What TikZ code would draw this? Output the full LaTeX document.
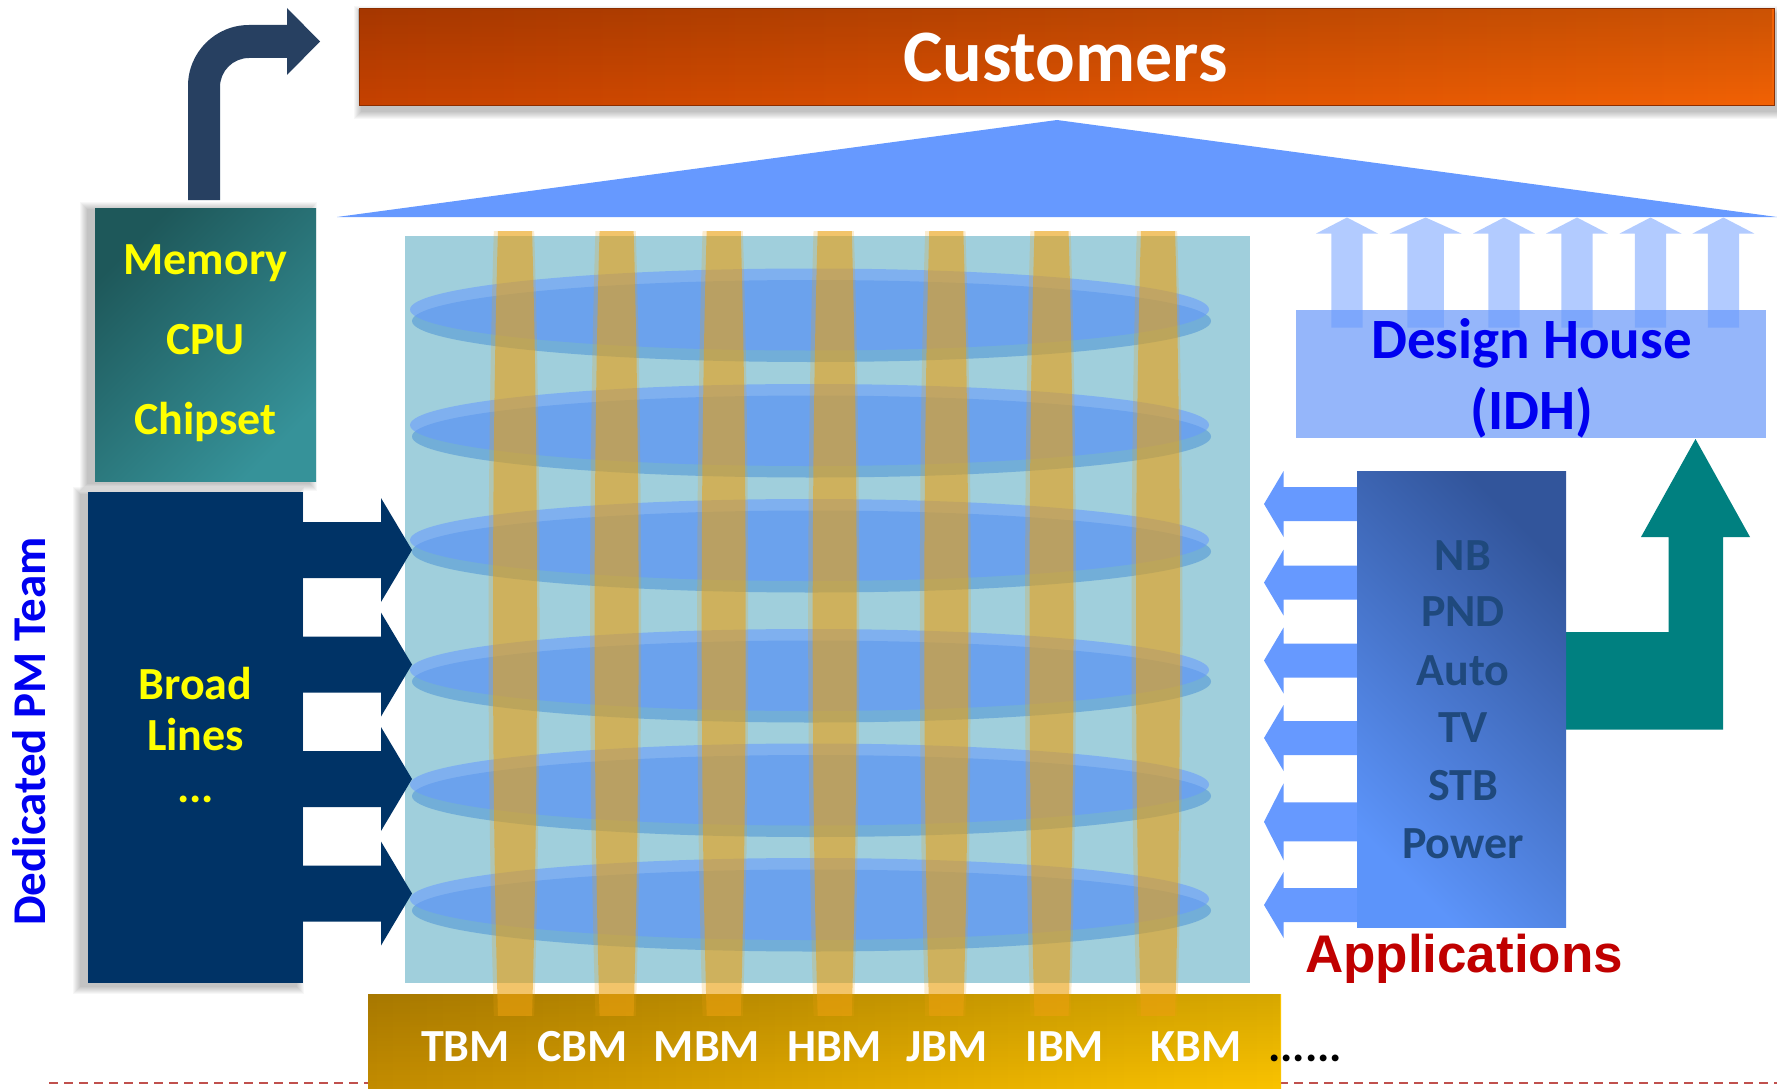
\documentclass[tikz,border=0pt]{standalone}
\usepackage{fontspec}
\setmainfont{Carlito}
\newfontfamily\arialfont{Liberation Sans}
\usetikzlibrary{fadings}

\definecolor{navyA}{RGB}{0,51,102}
\definecolor{navyB}{RGB}{39,64,97}
\definecolor{tealA}{RGB}{0,128,128}
\definecolor{sqblue}{RGB}{160,207,220}
\definecolor{pblue}{RGB}{102,153,255}
\definecolor{elB}{RGB}{95,160,215}
\definecolor{barO}{RGB}{235,160,15}
\definecolor{dhblue}{RGB}{149,182,250}
\definecolor{appsL}{RGB}{92,148,250}
\definecolor{appsD}{RGB}{50,85,155}
\definecolor{apptext}{RGB}{31,73,125}
\definecolor{memD}{RGB}{30,88,90}
\definecolor{memL}{RGB}{54,146,153}
\definecolor{goldD}{RGB}{195,140,0}
\definecolor{goldL}{RGB}{250,195,0}
\definecolor{custL}{RGB}{198,66,0}
\definecolor{custR}{RGB}{242,98,5}
\definecolor{dashred}{RGB}{192,80,77}
\definecolor{appred}{RGB}{192,0,0}
\definecolor{dblue}{RGB}{0,0,240}
\definecolor{yel}{RGB}{255,255,0}

\newcommand{\softshadow}[6]{%
  \foreach \k in {1,...,8}{%
    \fill[black, opacity=0.03] ({#1+#5-\k},{#2+#6-\k}) rectangle ({#3+#5+\k},{#4+#6+\k});
  }}

\begin{document}
\begin{tikzpicture}[x=1pt,y=-1pt,
  boxnode/.style={inner sep=0pt, outer sep=0pt, draw=none, anchor=north west},
  txt/.style={inner sep=0pt, anchor=base, font=\bfseries\fontsize{46}{50}\selectfont},
]
\useasboundingbox (0,0) rectangle (1777,1089);
\fill[white] (0,0) rectangle (1777,1089);

% dashed base line
\coordinate (dl) at (49,1082.5);
\coordinate (dr) at (1777,1082.5);
\draw[dashred, line width=2, dash pattern=on 9 off 6] (dl) -- (dr);

% Customers bar
\softshadow{359}{9}{1774}{106}{3}{5}
\node[boxnode, minimum width=1415, minimum height=97, left color=custL, right color=custR] (cust) at (359,9) {};
\fill[black, opacity=0.16, path fading=south] (cust.north west) rectangle (cust.south east);
\draw[custL!70!black, line width=1] (cust.north west) rectangle (cust.south east);
\node[txt, text=white, font=\bfseries\fontsize{74}{80}\selectfont] (custt) at (1065.5,81.6) {Customers};

% roof
\coordinate (rl) at (337,217);
\coordinate (ra) at (1057,120);
\coordinate (rr) at (1777,217);
\fill[pblue] (rl) -- (ra) -- (rr) -- cycle;

% curved navy arrow
\fill[navyB] (188,200) -- (188,86) .. controls (188,52.3) and (215.3,25) .. (249,25)
  -- (287,25) -- (287,8) -- (320,41.5) -- (287,75) -- (287,58) -- (249,58)
  .. controls (233,58) and (220,71) .. (220,87) -- (220,200) -- cycle;

% Memory box
\softshadow{95}{208}{316}{481}{-7}{2}
\node[boxnode, minimum width=221, minimum height=273, top color=memD, bottom color=memL, shading angle=45] (mem) at (95,208) {};
\node[txt, text=yel] (m1) at (205.5,274) {Memory};
\node[txt, text=yel] (m2) at (205.5,354) {CPU};
\node[txt, text=yel] (m3) at (205.5,434) {Chipset};

% Broad lines box
\softshadow{88}{492}{303}{983}{-7}{3}
\node[boxnode, minimum width=215, minimum height=491, fill=navyA] (bl) at (88,492) {};
\node[txt, text=yel] (b1) at (195.5,699.4) {Broad};
\node[txt, text=yel] (b2) at (195.5,750.7) {Lines};
\node[txt, text=yel] (b3) at (195.5,802) {...};

% Dedicated PM Team
\node[inner sep=0pt, anchor=base, rotate=90, text=dblue, font=\bfseries\fontsize{47}{50}\selectfont] (pm) at (45.7,731.5) {Dedicated PM Team};

% central square
\node[boxnode, minimum width=845, minimum height=747, fill=sqblue] (sq) at (405,236) {};

% navy arrows into square
\foreach \c in {550,664.5,779,893.5}{
  \fill[navyA] (300,\c-28) -- (381,\c-28) -- (381,\c-52) -- (412,\c) -- (381,\c+52) -- (381,\c+28) -- (300,\c+28) -- cycle;
}

% ellipse rows
\foreach \cy in {309.5,425,540,670,784.5,899}{
  \fill[elB, opacity=0.7] (811.5,\cy+11.5) ellipse (399.5 and 41);
  \fill[pblue, opacity=0.56] (809.5,\cy) ellipse (399.5 and 41);
}

% gold bar
\node[boxnode, minimum width=913, minimum height=95, left color=goldD, right color=goldL] (gold) at (368,994) {};
\fill[black, opacity=0.14, path fading=south] (gold.north west) rectangle (gold.south east);

% vertical bars
\foreach \cx in {515,616.6,723.7,834.7,946.3,1051.5,1158}{
  \begin{scope}
    \clip (\cx-30,231) rectangle (\cx+30,1015.5);
    \fill[barO, opacity=0.2] (\cx-1,623) ellipse (25.5 and 640);
    \fill[barO, opacity=0.52] (\cx,623) ellipse (22 and 620);
  \end{scope}
}

% BM labels
\node[txt, text=white] (t1) at (465.6,1061) {TBM};
\node[txt, text=white] (t2) at (582.5,1061) {CBM};
\node[txt, text=white] (t3) at (707,1061) {MBM};
\node[txt, text=white] (t4) at (834.6,1061) {HBM};
\node[txt, text=white] (t5) at (947,1061) {JBM};
\node[txt, text=white] (t6) at (1065,1061) {IBM};
\node[txt, text=white] (t7) at (1196,1061) {KBM};
\node[txt, text=black] (t8) at (1305,1061) {......};

% teal arrow
\fill[tealA] (1560,632) -- (1668.5,632) -- (1668.5,537) -- (1641,537) -- (1695.5,439)
  -- (1750,537) -- (1723,537) -- (1723,729.5) -- (1560,729.5) -- cycle;

% application arrows (leftwards)
\foreach \c/\s/\h in {504/17/33, 582.6/17/33, 660.5/17/33, 738/17/33, 821.8/19.5/38.5, 905/17/33}{
  \fill[pblue] (1360,\c-\s) -- (1283.6,\c-\s) -- (1283.6,\c-\h) -- (1264,\c) -- (1283.6,\c+\h) -- (1283.6,\c+\s) -- (1360,\c+\s) -- cycle;
}

% applications box
\node[boxnode, minimum width=209, minimum height=456, top color=appsD, bottom color=appsL, shading angle=-45] (apps) at (1357,471) {};
\node[txt, text=apptext] (a1) at (1463,570.3) {NB};
\node[txt, text=apptext] (a2) at (1463,626.4) {PND};
\node[txt, text=apptext] (a3) at (1463,685) {Auto};
\node[txt, text=apptext] (a4) at (1463,742) {TV};
\node[txt, text=apptext] (a5) at (1463,800) {STB};
\node[txt, text=apptext] (a6) at (1463,858) {Power};
\node[inner sep=0pt, anchor=base, text=appred, font=\arialfont\bfseries\fontsize{53}{56}\selectfont] (appl) at (1464,972.6) {Applications};

% design house box
\node[boxnode, minimum width=470, minimum height=128, fill=dhblue] (dh) at (1296,310) {};
\foreach \cx/\sw/\hw in {1347/15.6/31, 1425.6/18.3/36, 1504/15.6/31, 1577/15.6/31, 1650.5/15.6/31, 1723.4/15.6/31}{
  \fill[pblue, opacity=0.5] (\cx-\sw,327.7) -- (\cx-\sw,233.6) -- (\cx-\hw,233.6) -- (\cx,217.5)
    -- (\cx+\hw,233.6) -- (\cx+\sw,233.6) -- (\cx+\sw,327.7) -- cycle;
}
\node[txt, text=dblue, font=\bfseries\fontsize{57}{60}\selectfont] (dh1) at (1531.5,358) {Design House};
\node[txt, text=dblue, font=\bfseries\fontsize{57}{60}\selectfont] (dh2) at (1531.5,429.6) {(IDH)};
\end{tikzpicture}
\end{document}
